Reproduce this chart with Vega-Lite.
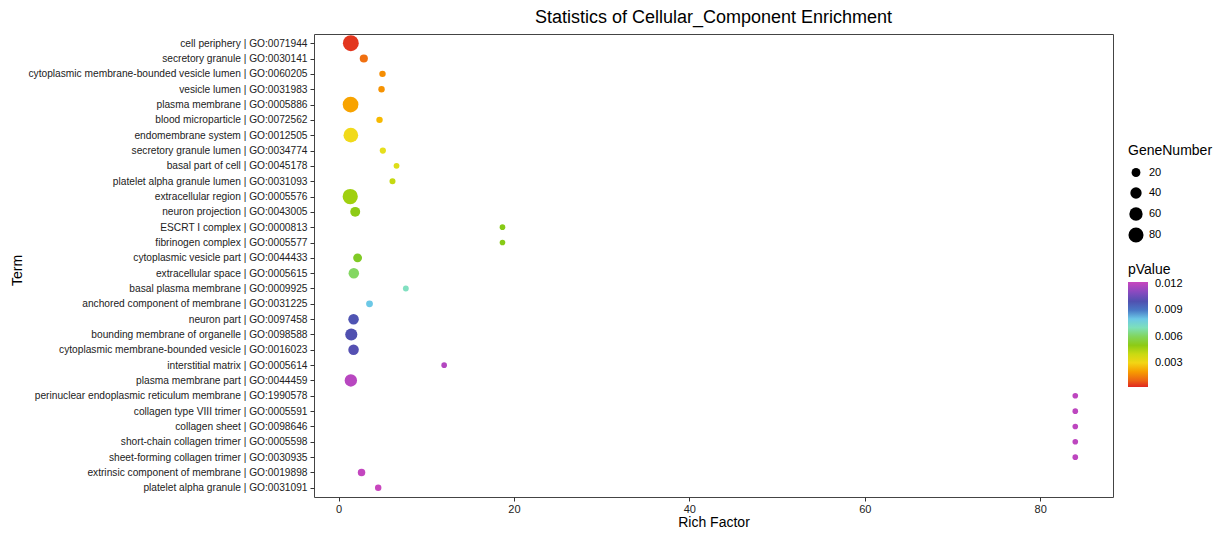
{
  "$schema": "https://vega.github.io/schema/vega-lite/v6.json",
  "width": 799,
  "height": 463,
  "autosize": {"type": "none"},
  "padding": {"left": 314, "top": 34, "right": 116, "bottom": 36},
  "config": {
    "font": "Liberation Sans",
    "view": {"stroke": "#444", "strokeWidth": 1}
  },
  "title": {
    "text": "Statistics of Cellular_Component Enrichment",
    "fontSize": 18,
    "fontWeight": "normal",
    "color": "#000",
    "anchor": "middle",
    "offset": 7
  },
  "data": {
    "values": [
      {"term": "cell periphery | GO:0071944", "rf": 1.40, "gene": 90, "p": 0.0004},
      {"term": "secretory granule | GO:0030141", "rf": 2.88, "gene": 15, "p": 0.0012},
      {"term": "cytoplasmic membrane-bounded vesicle lumen | GO:0060205", "rf": 5.01, "gene": 5, "p": 0.0017},
      {"term": "vesicle lumen | GO:0031983", "rf": 4.90, "gene": 5, "p": 0.0018},
      {"term": "plasma membrane | GO:0005886", "rf": 1.37, "gene": 88, "p": 0.0021},
      {"term": "blood microparticle | GO:0072562", "rf": 4.67, "gene": 5, "p": 0.0025},
      {"term": "endomembrane system | GO:0012505", "rf": 1.40, "gene": 75, "p": 0.0031},
      {"term": "secretory granule lumen | GO:0034774", "rf": 5.05, "gene": 4, "p": 0.0034},
      {"term": "basal part of cell | GO:0045178", "rf": 6.61, "gene": 2, "p": 0.0036},
      {"term": "platelet alpha granule lumen | GO:0031093", "rf": 6.15, "gene": 3, "p": 0.0041},
      {"term": "extracellular region | GO:0005576", "rf": 1.33, "gene": 82, "p": 0.0047},
      {"term": "neuron projection | GO:0043005", "rf": 1.90, "gene": 28, "p": 0.0050},
      {"term": "ESCRT I complex | GO:0000813", "rf": 18.69, "gene": 1, "p": 0.0051},
      {"term": "fibrinogen complex | GO:0005577", "rf": 18.69, "gene": 1, "p": 0.0051},
      {"term": "cytoplasmic vesicle part | GO:0044433", "rf": 2.17, "gene": 20, "p": 0.0053},
      {"term": "extracellular space | GO:0005615", "rf": 1.74, "gene": 33, "p": 0.0061},
      {"term": "basal plasma membrane | GO:0009925", "rf": 7.67, "gene": 2, "p": 0.0071},
      {"term": "anchored component of membrane | GO:0031225", "rf": 3.53, "gene": 7, "p": 0.0080},
      {"term": "neuron part | GO:0097458", "rf": 1.71, "gene": 33, "p": 0.0099},
      {"term": "bounding membrane of organelle | GO:0098588", "rf": 1.45, "gene": 48, "p": 0.0100},
      {"term": "cytoplasmic membrane-bounded vesicle | GO:0016023", "rf": 1.71, "gene": 33, "p": 0.0101},
      {"term": "interstitial matrix | GO:0005614", "rf": 12.04, "gene": 1, "p": 0.0118},
      {"term": "plasma membrane part | GO:0044459", "rf": 1.40, "gene": 50, "p": 0.0119},
      {"term": "perinuclear endoplasmic reticulum membrane | GO:1990578", "rf": 84.0, "gene": 1, "p": 0.0120},
      {"term": "collagen type VIII trimer | GO:0005591", "rf": 84.0, "gene": 1, "p": 0.0120},
      {"term": "collagen sheet | GO:0098646", "rf": 84.0, "gene": 1, "p": 0.0120},
      {"term": "short-chain collagen trimer | GO:0005598", "rf": 84.0, "gene": 1, "p": 0.0120},
      {"term": "sheet-forming collagen trimer | GO:0030935", "rf": 84.0, "gene": 1, "p": 0.0120},
      {"term": "extrinsic component of membrane | GO:0019898", "rf": 2.62, "gene": 11, "p": 0.0121},
      {"term": "platelet alpha granule | GO:0031091", "rf": 4.52, "gene": 5, "p": 0.0122}
    ]
  },
  "mark": {"type": "point", "filled": true, "opacity": 1, "shape": "circle"},
  "encoding": {
    "y": {
      "field": "term",
      "type": "nominal",
      "sort": null,
      "scale": {"type": "point", "padding": 0.6},
      "axis": {
        "title": "Term",
        "titleFontSize": 14,
        "titleFontWeight": "normal",
        "titleColor": "#000",
        "titleAngle": -90,
        "titleX": -297,
        "titleY": 236,
        "titleBaseline": "middle",
        "titleAlign": "center",
        "labelFontSize": 10.2,
        "labelColor": "#222",
        "labelPadding": 3,
        "tickSize": 4,
        "tickColor": "#333",
        "domain": false,
        "grid": false,
        "labelLimit": 400
      }
    },
    "x": {
      "field": "rf",
      "type": "quantitative",
      "scale": {"domain": [-2.8, 88.3], "nice": false, "zero": false},
      "axis": {
        "title": "Rich Factor",
        "titleFontSize": 14,
        "titleFontWeight": "normal",
        "titleColor": "#000",
        "titleY": 25,
        "titleBaseline": "middle",
        "values": [0, 20, 40, 60, 80],
        "labelFontSize": 11,
        "labelColor": "#222",
        "labelPadding": 2,
        "tickSize": 4,
        "tickColor": "#333",
        "domain": false,
        "grid": false
      }
    },
    "size": {
      "field": "gene",
      "type": "quantitative",
      "scale": {"domain": [0, 80], "range": [29, 227], "clamp": false, "zero": false},
      "legend": {
        "title": "GeneNumber",
        "orient": "none",
        "legendX": 814,
        "legendY": 110,
        "values": [20, 40, 60, 80],
        "titleFontSize": 14,
        "titleFontWeight": "normal",
        "titleColor": "#000",
        "titlePadding": 9,
        "labelFontSize": 11,
        "labelColor": "#000",
        "labelOffset": 5,
        "symbolFillColor": "#000",
        "symbolStrokeWidth": 0,
        "symbolOpacity": 1,
        "symbolType": "circle",
        "gridAlign": "all",
        "rowPadding": 4
      }
    },
    "color": {
      "field": "p",
      "type": "quantitative",
      "scale": {
        "domain": [0.00026, 0.0012, 0.0022, 0.0032, 0.0042, 0.0052, 0.0062, 0.0072, 0.0080, 0.0088, 0.0100, 0.0112, 0.0122],
        "range": ["#E02820", "#F07010", "#F8A800", "#F0E020", "#C0D810", "#80C818", "#84D868", "#88E0C8", "#6CC8E6", "#4A7FC8", "#5050B0", "#9048C0", "#C846BE"]
      },
      "legend": {
        "title": "pValue",
        "orient": "none",
        "legendX": 814,
        "legendY": 229,
        "type": "gradient",
        "direction": "vertical",
        "gradientLength": 105,
        "gradientThickness": 20,
        "values": [0.003, 0.006, 0.009, 0.012],
        "format": ".3f",
        "titleFontSize": 14,
        "titleFontWeight": "normal",
        "titleColor": "#000",
        "labelFontSize": 11,
        "labelColor": "#000",
        "labelOffset": 7,
        "gradientStrokeWidth": 0
      }
    }
  }
}
